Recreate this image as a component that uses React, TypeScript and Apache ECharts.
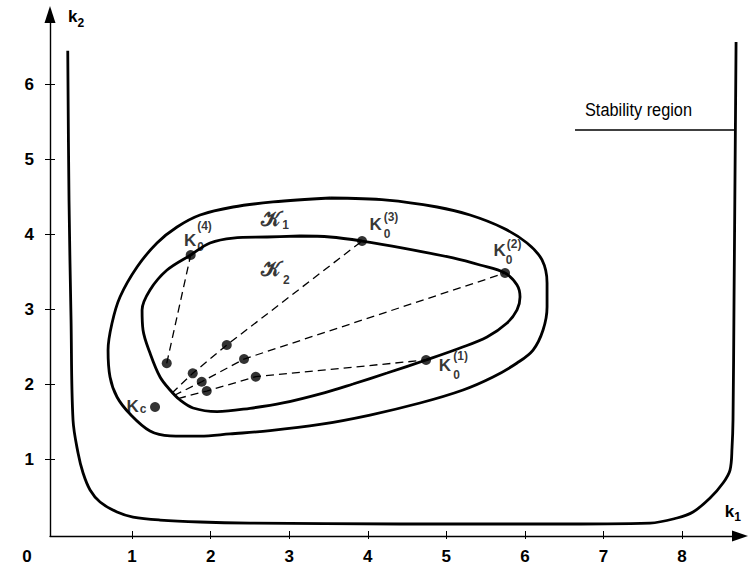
import React, { useEffect, useRef } from "react";
import * as echarts from "echarts";

// ---- data (k1, k2) ----
const xTickValues = [1, 2, 3, 4, 5, 6, 7, 8];
const yTickValues = [1, 2, 3, 4, 5, 6];

const stabilityBoundary: [number, number][] = [
  [0.181, 6.454], [0.197, 4.462], [0.223, 2.861], [0.248, 1.527], [0.312, 1.087],
  [0.376, 0.82], [0.465, 0.594], [0.592, 0.434], [0.808, 0.3], [1.012, 0.233],
  [1.356, 0.193], [1.865, 0.167], [2.501, 0.153], [4.411, 0.14], [6.32, 0.14],
  [7.593, 0.153], [7.937, 0.22], [8.14, 0.3], [8.357, 0.487], [8.522, 0.687],
  [8.611, 0.86], [8.637, 1.167], [8.649, 1.527], [8.662, 3.128], [8.688, 6.57],
];

const regionK1: [number, number][] = [
  [3.52, 4.489], [4.245, 4.462], [4.882, 4.369], [5.302, 4.262], [5.722, 4.089],
  [6.027, 3.889], [6.218, 3.662], [6.282, 3.355], [6.282, 3.035], [6.231, 2.728],
  [6.104, 2.461], [5.9, 2.288], [5.594, 2.101], [5.213, 1.928], [4.665, 1.754],
  [4.029, 1.594], [3.392, 1.468], [2.756, 1.385], [2.247, 1.342], [1.865, 1.312],
  [1.483, 1.316], [1.228, 1.381], [0.974, 1.607], [0.808, 1.834], [0.719, 2.101],
  [0.694, 2.461], [0.745, 2.821], [0.846, 3.168], [1.063, 3.568], [1.317, 3.889],
  [1.572, 4.102], [1.865, 4.262], [2.285, 4.369], [2.794, 4.436], [3.52, 4.489],
];

const regionK2: [number, number][] = [
  [3.138, 3.982], [3.52, 3.969], [3.927, 3.915], [4.449, 3.822], [5.085, 3.689],
  [5.429, 3.595], [5.747, 3.488], [5.9, 3.328], [5.938, 3.168], [5.9, 2.995],
  [5.773, 2.821], [5.518, 2.635], [5.175, 2.488], [4.742, 2.328], [4.245, 2.154],
  [3.812, 2.008], [3.456, 1.894], [2.921, 1.755], [2.501, 1.684], [2.081, 1.64],
  [1.776, 1.688], [1.61, 1.794], [1.483, 1.928], [1.356, 2.101], [1.228, 2.421],
  [1.139, 2.728], [1.127, 2.995], [1.228, 3.262], [1.445, 3.528], [1.746, 3.729],
  [1.992, 3.889], [2.285, 3.955], [2.718, 3.969], [3.138, 3.982],
];

const path1: [number, number][] = [[1.585, 1.814], [1.95, 1.914], [2.574, 2.105], [4.742, 2.328]];
const path2: [number, number][] = [[1.534, 1.854], [1.886, 2.038], [2.425, 2.341], [5.747, 3.488]];
const path3: [number, number][] = [[1.505, 1.884], [1.772, 2.15], [2.205, 2.528], [3.927, 3.915]];
const path4: [number, number][] = [[1.441, 2.284], [1.746, 3.729]];

const pointsK0: [number, number][] = [[4.742, 2.328], [5.747, 3.488], [3.927, 3.915], [1.746, 3.729]];
const iteratePoints: [number, number][] = [
  [1.441, 2.284], [1.772, 2.15], [2.205, 2.528], [1.886, 2.038], [2.425, 2.341], [1.95, 1.914], [2.574, 2.105],
];
const pointKc: [number, number][] = [[1.292, 1.701]];

const stabilityLeader: [number, number][] = [[6.638, 5.396], [8.68, 5.396]];
const stabilityNote = { text: "Stability region", at: [7.446, 5.663] as [number, number] };

type Role = "main" | "index" | "script";
const annotations: { text: string; at: [number, number]; role: Role }[] = [
  { text: "K", at: [1.738, 3.922], role: "main" },
  { text: "0", at: [1.871, 3.835], role: "index" },
  { text: "(4)", at: [1.922, 4.116], role: "index" },
  { text: "K", at: [4.099, 4.136], role: "main" },
  { text: "0", at: [4.245, 4.015], role: "index" },
  { text: "(3)", at: [4.296, 4.229], role: "index" },
  { text: "K", at: [5.677, 3.789], role: "main" },
  { text: "0", at: [5.798, 3.662], role: "index" },
  { text: "(2)", at: [5.862, 3.875], role: "index" },
  { text: "K", at: [4.983, 2.261], role: "main" },
  { text: "0", at: [5.13, 2.134], role: "index" },
  { text: "(1)", at: [5.181, 2.375], role: "index" },
  { text: "K", at: [1.006, 1.714], role: "main" },
  { text: "c", at: [1.139, 1.668], role: "index" },
  { text: "𝒦", at: [2.77, 4.216], role: "script" },
  { text: "1", at: [2.955, 4.135], role: "index" },
  { text: "𝒦", at: [2.77, 3.542], role: "script" },
  { text: "2", at: [2.965, 3.4], role: "index" },
];

const FONT = "'Liberation Sans', Arial, Helvetica, sans-serif";
const BLACK = "#000";

const roleStyle: Record<Role, any> = {
  main: { fontSize: 17, fontWeight: "bold", fontFamily: FONT },
  index: { fontSize: 12, fontWeight: "bold", fontFamily: FONT },
  script: { fontSize: 21, fontWeight: "bold", fontFamily: "'DejaVu Serif', 'DejaVu Sans', serif" },
};

const X_MIN = -0.045;
const X_MAX = 8.738;
const Y_MIN = -0.02;
const Y_MAX = 6.937;

export default function App() {
  const ref = useRef<HTMLDivElement>(null);

  useEffect(() => {
    if (!ref.current) return;
    const chart = echarts.init(ref.current, undefined, { renderer: "svg" });

    const curve = (data: [number, number][], width: number) => ({
      type: "line",
      data,
      smooth: 0.35,
      symbol: "none",
      silent: true,
      lineStyle: { color: BLACK, width },
      z: 3,
    });
    const dashed = (data: [number, number][]) => ({
      type: "line",
      data,
      smooth: false,
      symbol: "none",
      silent: true,
      lineStyle: { color: BLACK, width: 1.3, type: [8, 5] },
      z: 2,
    });

    const axisLineStyle = { color: BLACK, width: 1.4 };
    const nameRich = {
      k: { fontSize: 17, fontWeight: "bold", fontFamily: FONT, color: BLACK },
      s: { fontSize: 12, fontWeight: "bold", fontFamily: FONT, color: BLACK, padding: [12, 0, 0, 0] },
    };

    chart.setOption({
      animation: false,
      backgroundColor: "#fff",
      textStyle: { fontFamily: FONT, color: BLACK },
      grid: { left: 50, right: 8, top: 14.5, bottom: 47, outerBoundsMode: "none", containLabel: false },
      xAxis: [
        {
          type: "value",
          min: X_MIN,
          max: X_MAX,
          position: "bottom",
          name: "{k|k}{s|1}",
          nameLocation: "end",
          nameGap: 1,
          nameTextStyle: { align: "right", verticalAlign: "bottom", padding: [0, 0, 13, 0], rich: nameRich },
          axisLine: { onZero: false, lineStyle: axisLineStyle, symbol: ["none", "triangle"], symbolSize: [11, 16] },
          axisTick: { show: true, customValues: xTickValues, length: 3, lineStyle: { color: BLACK, width: 1 } },
          axisLabel: { customValues: xTickValues, margin: 12, fontSize: 17, fontWeight: "bold", color: BLACK, fontFamily: FONT },
          splitLine: { show: false },
        },
        {
          type: "value",
          min: X_MIN,
          max: X_MAX,
          position: "bottom",
          axisLine: { show: false, onZero: false },
          axisTick: { show: true, inside: true, customValues: xTickValues, length: 5, lineStyle: { color: BLACK, width: 1 } },
          axisLabel: { show: false },
          splitLine: { show: false },
        },
      ],
      yAxis: [
        {
          type: "value",
          min: Y_MIN,
          max: Y_MAX,
          position: "left",
          name: "{k|k}{s|2}",
          nameLocation: "end",
          nameGap: 10,
          nameTextStyle: { align: "left", verticalAlign: "top", padding: [0, 0, 0, 18], rich: nameRich },
          axisLine: { onZero: false, lineStyle: axisLineStyle, symbol: ["none", "triangle"], symbolSize: [11, 17] },
          axisTick: { show: true, customValues: yTickValues, length: 5, lineStyle: { color: BLACK, width: 1 } },
          axisLabel: { customValues: yTickValues, margin: 16, fontSize: 17, fontWeight: "bold", color: BLACK, fontFamily: FONT },
          splitLine: { show: false },
        },
        {
          type: "value",
          min: Y_MIN,
          max: Y_MAX,
          position: "left",
          offset: 0,
          axisLine: { show: false, onZero: false },
          axisTick: { show: true, inside: true, customValues: yTickValues, length: 5, lineStyle: { color: BLACK, width: 1 } },
          axisLabel: { show: false },
          splitLine: { show: false },
        },
      ],
      series: [
        curve(stabilityBoundary, 2.8),
        curve(regionK1, 2.8),
        curve(regionK2, 2.8),
        dashed(path1),
        dashed(path2),
        dashed(path3),
        dashed(path4),
        {
          type: "line",
          data: stabilityLeader,
          symbol: "none",
          silent: true,
          lineStyle: { color: BLACK, width: 1.3 },
        },
        {
          type: "scatter",
          data: [...pointsK0, ...iteratePoints, ...pointKc],
          symbol: "circle",
          symbolSize: 10,
          itemStyle: { color: BLACK },
          silent: true,
          z: 5,
        },
        {
          type: "scatter",
          clip: false,
          silent: true,
          symbol: "circle",
          symbolSize: 1,
          itemStyle: { color: "rgba(0,0,0,0)" },
          z: 6,
          data: annotations.map((a) => ({
            value: a.at,
            name: a.text,
            label: {
              show: true,
              position: "inside",
              formatter: a.text,
              color: BLACK,
              align: "center",
              verticalAlign: "middle",
              ...roleStyle[a.role],
            },
          })),
        },
      ],
    });

    const notePx = chart.convertToPixel({ gridIndex: 0 }, stabilityNote.at) as number[];
    chart.setOption({
      graphic: [
        {
          type: "text",
          x: 27,
          y: 556,
          style: { text: "0", align: "center", verticalAlign: "middle", font: "bold 17px " + FONT, fill: BLACK },
        },
        {
          type: "text",
          x: notePx[0],
          y: notePx[1],
          scaleX: 0.86,
          style: { text: stabilityNote.text, align: "center", verticalAlign: "middle", font: "19px " + FONT, fill: BLACK },
        },
      ],
    });

    return () => chart.dispose();
  }, []);

  return (
    <div
      ref={ref}
      style={{ position: "absolute", left: 0, top: 0, width: 748, height: 583, background: "#fff" }}
    />
  );
}
